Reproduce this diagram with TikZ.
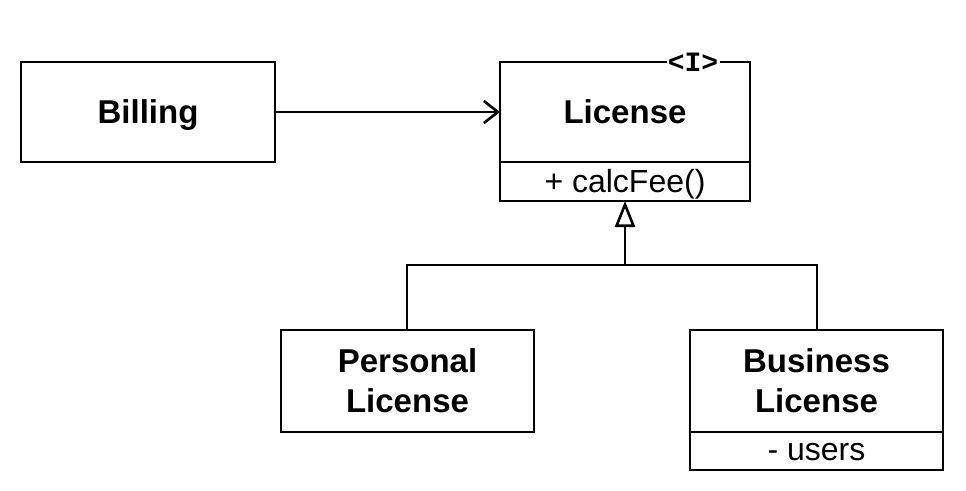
\documentclass[tikz,border=0pt]{standalone}
\usepackage{fontspec}
\setmainfont{Liberation Sans}
\newfontfamily\monof{Liberation Mono}
\usetikzlibrary{arrows.meta}
\begin{document}
\begin{tikzpicture}[x=1pt,y=-1pt,
  cls/.style={draw,line width=2.6pt,inner sep=0pt},
  lbl/.style={font=\fontsize{33}{40}\selectfont\bfseries,align=center},
  attr/.style={font=\fontsize{32}{36}\selectfont},
  conn/.style={line width=2.6pt}]
\useasboundingbox (0,0) rectangle (966,490);
% Billing
\node[cls,minimum width=254pt,minimum height=100pt] (billing) at (148,112) {};
\node[lbl] (billingt) at (148,115) {Billing};
% License interface
\draw[line width=2.6pt] (667,62) -- (500,62) -- (500,201) -- (750,201) -- (750,62) -- (720,62);
\draw[line width=2.6pt] (500,162) -- (750,162);
\coordinate (licW) at (500,112);
\coordinate (licS) at (625,201);
\node[lbl] (lict) at (625,112) {License};
\node[attr] (licop) at (625,184) {+ calcFee()};
\node[font=\monof\fontsize{28}{28}\selectfont\bfseries,inner sep=0pt] (stereo) at (693,62) {<I>};
% Personal License
\node[cls,minimum width=253pt,minimum height=102pt] (personal) at (407.5,381) {};
\node[lbl] (personalt) at (personal.center) {Personal\\License};
% Business License
\draw[line width=2.6pt] (690,330) rectangle (943,470);
\draw[line width=2.6pt] (690,432) -- (943,432);
\node[lbl] (businesst) at (816.5,381) {Business\\License};
\node[attr] (busattr) at (816.5,452) {- users};
\coordinate (perN) at (407,330);
\coordinate (busN) at (817,330);
% association
\draw[conn,-{Straight Barb[length=14pt,width=22pt,line width=2.6pt]}] (billing.east) -- (licW);
% generalization
\coordinate (junc) at (625,265);
\draw[conn] (perN) -- (407,265) -- (817,265) -- (busN);
\draw[conn,-{Triangle[open,length=26pt,width=20pt,line width=2.6pt]}] (junc) -- (licS);
\end{tikzpicture}
\end{document}
